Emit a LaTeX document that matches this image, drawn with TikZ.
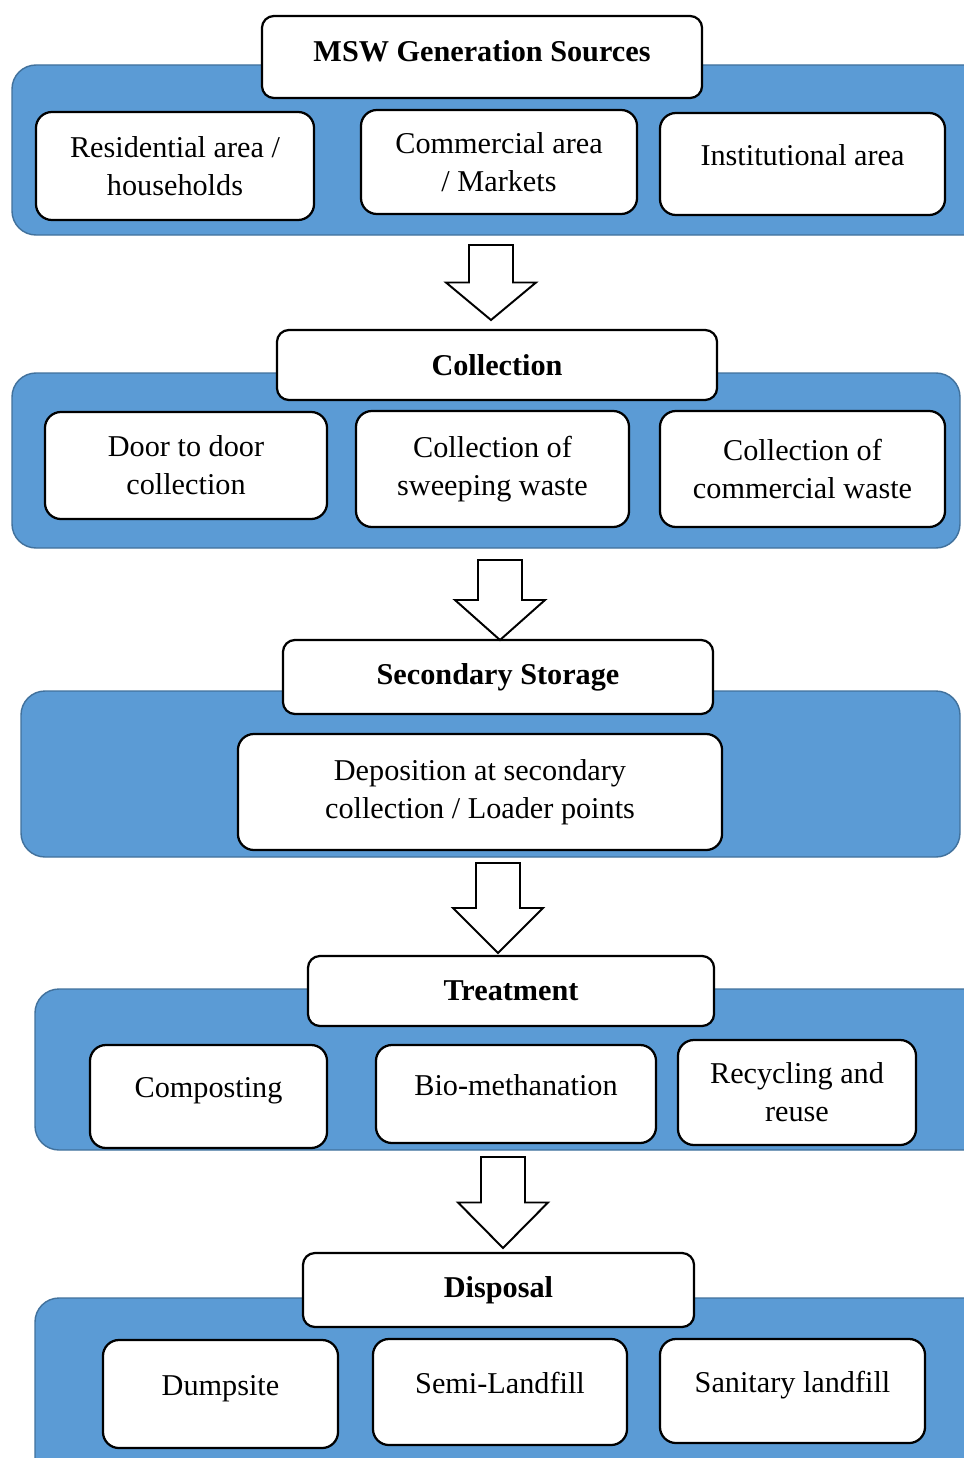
\documentclass[tikz,border=0pt]{standalone}
\usepackage{fontspec}
\setmainfont{Liberation Serif}
\usepackage{xcolor}
\usetikzlibrary{positioning}
\definecolor{panelblue}{HTML}{5B9BD5}
\definecolor{panelline}{HTML}{41719C}

\begin{document}
\begin{tikzpicture}[
  x=0.025cm, y=-0.025cm,
  panel/.style={draw=panelline, fill=panelblue, line width=1pt, rounded corners=0.6cm},
  stage/.style={draw, fill=white, line width=1.6pt, rounded corners=0.3cm, inner sep=0pt,
                font=\fontsize{21.5}{27}\selectfont\bfseries, align=center},
  item/.style={draw, fill=white, line width=1.6pt, rounded corners=0.4cm, inner sep=0pt,
               font=\fontsize{21.5}{27}\selectfont, align=center},
  oneline/.style={text depth=0.45cm},
  flowarrow/.pic={\draw[fill=white, line width=1.4pt, line join=miter]
      (-22,0) -- (22,0) -- (22,{#1/2}) -- (45,{#1/2}) -- (0,#1)
      -- (-45,{#1/2}) -- (-22,{#1/2}) -- cycle;},
]
  \useasboundingbox (0,0) rectangle (964,1458);
  \clip (0,0) rectangle (964,1458);

  % blue panels
  \draw[panel] (12,65) rectangle (1000,235);
  \draw[panel] (12,373) rectangle (960,548);
  \draw[panel] (21,691) rectangle (960,857);
  \draw[panel] (35,989) rectangle (1000,1150);
  \draw[panel] (35,1298) rectangle (1000,1500);

  % generation
  \node[stage, minimum width=11cm, minimum height=2.05cm, text depth=0.3cm] (gen) at (482,57) {MSW Generation Sources};
  \node[item, minimum width=6.95cm, minimum height=2.7cm] (resid) at (175,166) {Residential area /\\households};
  \node[item, minimum width=6.9cm, minimum height=2.6cm] (market) at (499,162) {Commercial area\\/ Markets};
  \node[item, oneline, minimum width=7.125cm, minimum height=2.55cm] (instit) at (802.5,164) {Institutional area};

  % collection
  \node[stage, minimum width=11cm, minimum height=1.75cm] (coll) at (497,365) {Collection};
  \node[item, minimum width=7.05cm, minimum height=2.675cm] (door) at (186,465.5) {Door to door\\collection};
  \node[item, minimum width=6.825cm, minimum height=2.9cm] (sweep) at (492.5,469) {Collection of\\sweeping waste};
  \node[item, minimum width=7.125cm, minimum height=2.9cm] (commw) at (802.5,469) {Collection of\\commercial waste};

  % secondary storage
  \node[stage, minimum width=10.75cm, minimum height=1.85cm] (store) at (498,677) {Secondary Storage};
  \node[item, minimum width=12.1cm, minimum height=2.9cm] (depo) at (480,792) {Deposition at secondary\\collection / Loader points};

  % treatment
  \node[stage, minimum width=10.15cm, minimum height=1.75cm] (treat) at (511,991) {Treatment};
  \node[item, oneline, minimum width=5.925cm, minimum height=2.575cm] (compost) at (208.5,1096.5) {Composting};
  \node[item, oneline, minimum width=7cm, minimum height=2.45cm] (biometh) at (516,1094) {Bio-methanation};
  \node[item, minimum width=5.95cm, minimum height=2.625cm] (recycle) at (797,1092.5) {Recycling and\\reuse};

  % disposal
  \node[stage, minimum width=9.775cm, minimum height=1.85cm] (disp) at (498.5,1290) {Disposal};
  \node[item, oneline, minimum width=5.875cm, minimum height=2.7cm] (dump) at (220.5,1394) {Dumpsite};
  \node[item, oneline, minimum width=6.35cm, minimum height=2.65cm] (semi) at (500,1392) {Semi-Landfill};
  \node[item, oneline, minimum width=6.625cm, minimum height=2.6cm] (sanit) at (792.5,1391) {Sanitary landfill};

  % block arrows between stages
  \pic at (491,245) {flowarrow=75};
  \pic at (500,560) {flowarrow=80};
  \pic at (498,863) {flowarrow=90};
  \pic at (503,1157) {flowarrow=91};
\end{tikzpicture}
\end{document}
